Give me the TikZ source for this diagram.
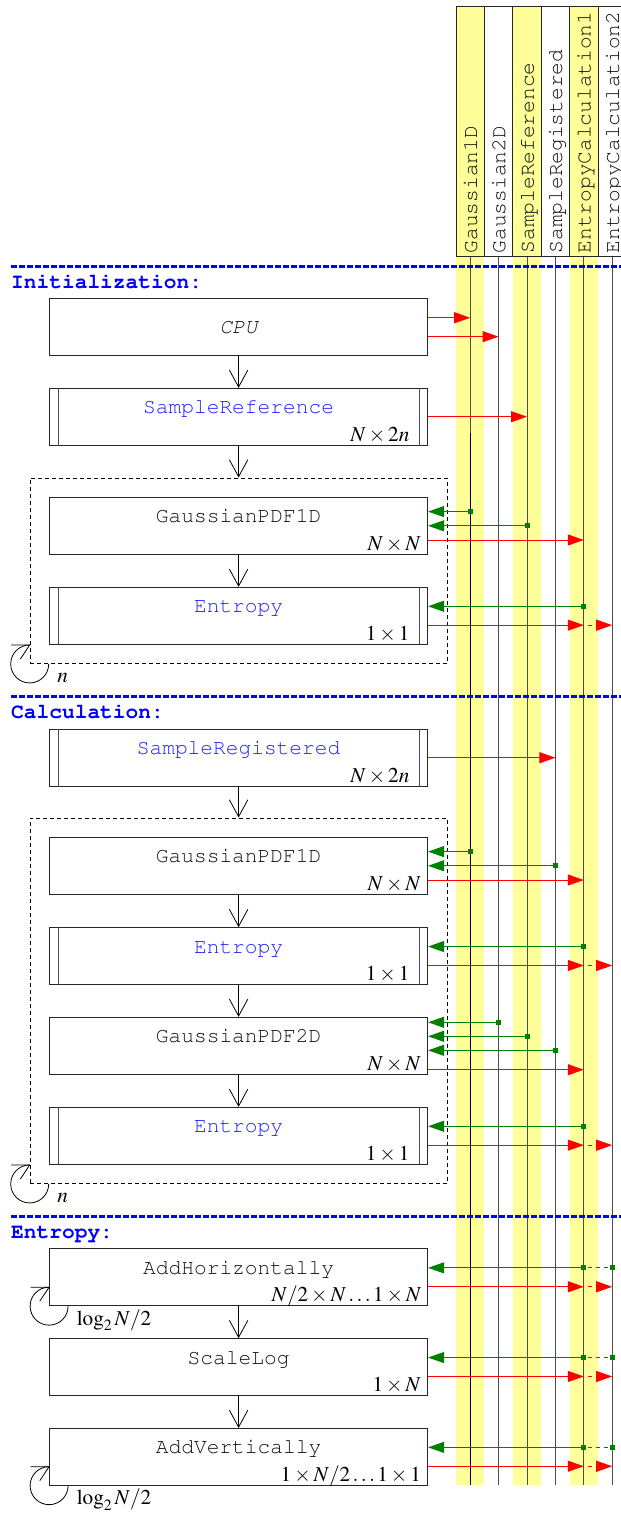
\documentclass[tikz,border=0pt]{standalone}
\usepackage{mathptmx}
\usetikzlibrary{arrows.meta,fit}

\definecolor{lane}{RGB}{255,255,153}
\definecolor{ttblue}{RGB}{30,30,255}
\definecolor{msgred}{RGB}{255,0,0}
\definecolor{msggreen}{RGB}{0,128,0}
\definecolor{ink}{RGB}{15,15,15}
\newcommand\ffs{\fontsize{21.2}{25}\selectfont}
\newcommand\cour{\fontencoding{OT1}\fontfamily{pcr}\selectfont}

% message helpers: #1 stage node, #2 vertical offset from its centre, #3 lifeline
\newcommand\msgpt[2]{\path ([yshift=#2]#1.east) coordinate (m);}
\newcommand\outmsg[3]{\msgpt{#1}{#2}\draw[msgout] (m) -- (m -| #3);}
\newcommand\outmsgx[2]{\msgpt{#1}{#2}\draw[msgout] (m) -- (m -| h5);
  \draw[msgout,msgdash] (m -| h5) -- (m -| h6);}
\newcommand\inmsg[3]{\msgpt{#1}{#2}\draw[msgin] (m -| #3) -- (m);
  \node[sq] at (m -| #3) {};}
\newcommand\inmsgx[2]{\msgpt{#1}{#2}\draw[msgline,msgdash] (m -| h6) -- (m -| h5);
  \draw[msgin] (m -| h5) -- (m); \node[sq] at (m -| h5) {}; \node[sq] at (m -| h6) {};}
% inner bars of a double-sided stage
\newcommand\bars[1]{\draw[stageline] ([xshift=9pt]#1.north west) -- ([xshift=9pt]#1.south west)
  ([xshift=-9pt]#1.north east) -- ([xshift=-9pt]#1.south east);}
% repetition mark round a corner
\newcommand\loopmark[2]{%
  \draw[loopline] ([xshift=19pt]#1) arc[start angle=0,end angle=-270,radius=19pt];
  \draw[loopline] ([xshift=-18.6pt,yshift=19pt]#1) -- ([yshift=19pt]#1) -- ([xshift=-9.3pt,yshift=5pt]#1);
  \node[looplabel] at ([xshift=27.5pt,yshift=-19pt]#1) {#2};}

\begin{document}
\begin{tikzpicture}[x=1pt,y=-1pt,
  stage/.style={draw=black!85,fill=white,line width=1pt,minimum width=378pt,minimum height=56.7pt,inner sep=0pt},
  stageline/.style={draw=black!70,line width=1pt},
  title/.style={font=\ffs\cour,text=ink,anchor=base,inner sep=0pt},
  ptitle/.style={title,text=ttblue},
  dims/.style={font=\ffs,anchor=base east,inner sep=0pt},
  flow/.style={line width=0.8pt,-{Straight Barb[length=17pt,width=18.5pt]}},
  loopbox/.style={draw,line width=0.8pt,dash pattern=on 4pt off 3pt,inner sep=19pt},
  loopline/.style={line width=0.8pt},
  looplabel/.style={font=\ffs,anchor=base west,inner sep=0pt},
  hcell/.style={draw=black!85,line width=1pt,minimum width=28.4pt,minimum height=250pt,inner sep=0pt},
  htext/.style={font=\ffs\cour,text=ink,rotate=90,anchor=base west,inner sep=0pt},
  lifeline/.style={draw=black!70,line width=0.9pt},
  sep/.style={draw=blue,line width=3pt,dash pattern=on 5.5pt off 2.5pt},
  sec/.style={font=\ffs\cour\bfseries,text=blue,anchor=base west,inner sep=0pt},
  msgout/.style={draw=msgred,line width=1pt,-{Triangle[length=16pt,width=11pt]}},
  msgin/.style={draw=msggreen,line width=1pt,-{Triangle[length=16pt,width=11pt]}},
  msgline/.style={draw=msggreen,line width=1pt},
  msgdash/.style={dash pattern=on 4pt off 4pt,dash phase=4pt},
  sq/.style={fill=msggreen,minimum size=5pt,inner sep=0pt,draw=none},
]
\useasboundingbox (0,0) rectangle (621,1513);
\clip (0,0) rectangle (621,1513);

% lanes
\foreach \c in {456,512.8,569.6} \fill[lane] (\c,6) rectangle ({\c+28.4},1485);

% lane headers
\foreach \i/\lab/\fc in {1/Gaussian1D/lane,2/Gaussian2D/white,3/SampleReference/lane,
    4/SampleRegistered/white,5/EntropyCalculation1/lane,6/EntropyCalculation2/white}{
  \node[hcell,fill=\fc] (h\i) at ({470.2+28.4*(\i-1)},131) {};
  \node[htext] at ([xshift=6.8pt,yshift=3pt]h\i.south) {\lab};
  \draw[lifeline] (h\i.south) -- (h\i.south |- 0,1485);
}
\draw[black,line width=0.9pt] (h1.south |- 0,433) -- (h1.south |- 0,1485);

% section separators and headings
\draw[sep] (11,266) -- (621,266);
\draw[sep] (11,696.5) -- (621,696.5);
\draw[sep] (11,1216) -- (621,1216);
\node[sec] (secI) at (11,288.3) {Initialization:};
\node[sec] (secC) at (11,718.8) {Calculation:};
\node[sec] (secE) at (11,1238.3) {Entropy:};

% stages
\node[stage] (cpu)  at (238.6,327.2) {};
\node[title] at ([yshift=-35pt]cpu.north) {\itshape CPU};

\node[stage] (sref) at (238.6,416.7) {};
\bars{sref}
\node[ptitle] at ([yshift=-26pt]sref.north) {SampleReference};
\node[dims] at ([xshift=-18.5pt,yshift=4.5pt]sref.south east) {$N\times 2n$};

\node[stage] (gA) at (238.6,525.8) {};
\node[title] at ([yshift=-26pt]gA.north) {GaussianPDF1D};
\node[dims] at ([xshift=-7pt,yshift=4.5pt]gA.south east) {$N\times N$};

\node[stage] (eA) at (238.6,615.7) {};
\bars{eA}
\node[ptitle] at ([yshift=-26pt]eA.north) {Entropy};
\node[dims] at ([xshift=-18.5pt,yshift=4.5pt]eA.south east) {$1\times 1$};

\node[stage] (sreg) at (238.6,757.7) {};
\bars{sreg}
\node[ptitle] at ([yshift=-26pt]sreg.north) {SampleRegistered};
\node[dims] at ([xshift=-18.5pt,yshift=4.5pt]sreg.south east) {$N\times 2n$};

\node[stage] (gB) at (238.6,865.8) {};
\node[title] at ([yshift=-26pt]gB.north) {GaussianPDF1D};
\node[dims] at ([xshift=-7pt,yshift=4.5pt]gB.south east) {$N\times N$};

\node[stage] (eB) at (238.6,956) {};
\bars{eB}
\node[ptitle] at ([yshift=-26pt]eB.north) {Entropy};
\node[dims] at ([xshift=-18.5pt,yshift=4.5pt]eB.south east) {$1\times 1$};

\node[stage] (g2) at (238.6,1045.7) {};
\node[title] at ([yshift=-26pt]g2.north) {GaussianPDF2D};
\node[dims] at ([xshift=-7pt,yshift=4.5pt]g2.south east) {$N\times N$};

\node[stage] (eC) at (238.6,1135.7) {};
\bars{eC}
\node[ptitle] at ([yshift=-26pt]eC.north) {Entropy};
\node[dims] at ([xshift=-18.5pt,yshift=4.5pt]eC.south east) {$1\times 1$};

\node[stage] (addh) at (238.6,1277.3) {};
\node[title] at ([yshift=-26pt]addh.north) {AddHorizontally};
\node[dims] at ([xshift=-6.5pt,yshift=4.5pt]addh.south east) {$N/2\times N\ldots 1\times N$};

\node[stage] (slog) at (238.6,1367) {};
\node[title] at ([yshift=-26pt]slog.north) {ScaleLog};
\node[dims] at ([xshift=-7pt,yshift=4.5pt]slog.south east) {$1\times N$};

\node[stage] (addv) at (238.6,1456.8) {};
\node[title] at ([yshift=-26pt]addv.north) {AddVertically};
\node[dims] at ([xshift=-7pt,yshift=4.5pt]addv.south east) {$1\times N/2\ldots 1\times 1$};

% repeated blocks
\node[loopbox,fit=(gA)(eA)] (loop1) {};
\node[loopbox,fit=(gB)(eC)] (loop2) {};
\loopmark{loop1.south west}{$n$}
\loopmark{loop2.south west}{$n$}
\loopmark{addh.south west}{$\log_2 N/2$}
\loopmark{addv.south west}{$\log_2 N/2$}

% control flow
\draw[flow] (cpu.south) -- (sref.north);
\draw[flow] (sref.south) -- (loop1.north);
\draw[flow] (gA.south) -- (eA.north);
\draw[flow] (sreg.south) -- (loop2.north);
\draw[flow] (gB.south) -- (eB.north);
\draw[flow] (eB.south) -- (g2.north);
\draw[flow] (g2.south) -- (eC.north);
\draw[flow] (addh.south) -- (slog.north);
\draw[flow] (slog.south) -- (addv.north);

% data written (red) and read (green)
\outmsg{cpu}{9.45pt}{h1}
\outmsg{cpu}{-9.45pt}{h2}
\outmsg{sref}{0pt}{h3}

\inmsg{gA}{14.2pt}{h1}
\inmsg{gA}{0pt}{h3}
\outmsg{gA}{-14.2pt}{h5}
\inmsg{eA}{9.45pt}{h5}
\outmsgx{eA}{-9.45pt}

\outmsg{sreg}{0pt}{h4}
\inmsg{gB}{14.2pt}{h1}
\inmsg{gB}{0pt}{h4}
\outmsg{gB}{-14.2pt}{h5}
\inmsg{eB}{9.45pt}{h5}
\outmsgx{eB}{-9.45pt}
\inmsg{g2}{23.4pt}{h2}
\inmsg{g2}{9.4pt}{h3}
\inmsg{g2}{-4.6pt}{h4}
\outmsg{g2}{-24pt}{h5}
\inmsg{eC}{9.45pt}{h5}
\outmsgx{eC}{-9.45pt}

\inmsgx{addh}{9.45pt}
\outmsgx{addh}{-9.45pt}
\inmsgx{slog}{9.45pt}
\outmsgx{slog}{-9.45pt}
\inmsgx{addv}{9.45pt}
\outmsgx{addv}{-9.45pt}
\end{tikzpicture}
\end{document}
